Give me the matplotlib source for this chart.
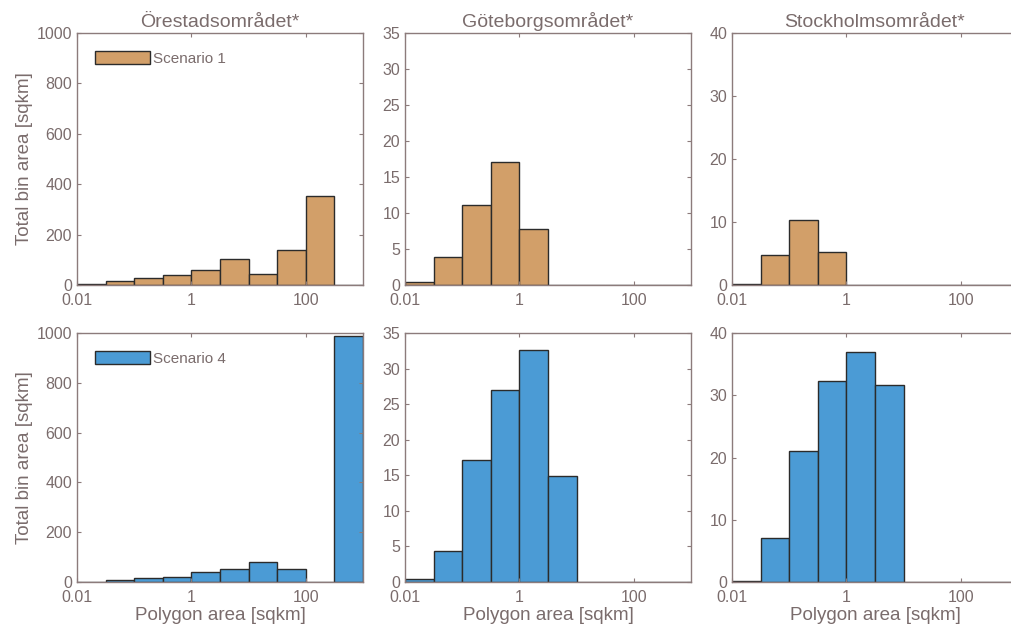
import numpy as np
import matplotlib
matplotlib.use("Agg")
import matplotlib.pyplot as plt

# half-decade bin edges, 0.01 .. 1000 sqkm
bin_edges = 10.0 ** np.arange(-2, 3.01, 0.5)

regions = ["Örestadsområdet*", "Göteborgsområdet*", "Stockholmsområdet*"]

# total bin area [sqkm] per bin, scenario 1 (top row)
s1_orestad = [3, 17, 29, 40, 60, 105, 43, 140, 353, 0]
s1_goteborg = [0.37, 3.85, 11.1, 17.1, 7.8, 0, 0, 0, 0, 0]
s1_stockholm = [0.2, 4.7, 10.3, 5.2, 0, 0, 0, 0, 0, 0]

# scenario 4 (bottom row)
s4_orestad = [1, 9, 16, 20, 40, 53, 80, 51, 0, 990]
s4_goteborg = [0.47, 4.4, 17.2, 27.0, 32.6, 14.9, 0, 0, 0, 0]
s4_stockholm = [0.16, 7.1, 21.0, 32.3, 36.9, 31.6, 0, 0, 0, 0]

ylims = [1000, 35, 40]
ysteps = [200, 5, 10]

c_s1 = "#d29f69"
c_s4 = "#4b9bd5"
txt = "#7a6c6c"
spine = "#8c7b7b"

plt.rcParams["font.family"] = ["Liberation Sans", "DejaVu Sans"]

fig = plt.figure(figsize=(10.11, 6.28), dpi=100)

xs = [0.0762, 0.4006, 0.7240]
w = 0.2829
rows = [(0.5462, 0.4013), (0.0732, 0.3965)]

data = [[s1_orestad, s1_goteborg, s1_stockholm],
        [s4_orestad, s4_goteborg, s4_stockholm]]
colors = [c_s1, c_s4]
labels = ["Scenario 1", "Scenario 4"]

for r, (y0, h) in enumerate(rows):
    for c in range(3):
        ax = fig.add_axes([xs[c], y0, w, h])
        vals = data[r][c]
        lefts = bin_edges[:-1]
        widths = np.diff(bin_edges)
        bars = ax.bar(lefts, vals, width=widths, align="edge",
                      color=colors[r], edgecolor="#2b2b2b", linewidth=1.0,
                      label=labels[r])
        ax.set_xscale("log")
        ax.set_xlim(0.01, 1000)
        ax.set_ylim(0, ylims[c])
        ax.set_xticks([0.01, 1, 100])
        ax.set_xticklabels(["0.01", "1", "100"])
        ax.minorticks_off()
        ax.set_yticks(np.arange(0, ylims[c] + 0.1, ysteps[c]))
        ax.tick_params(direction="in", top=True, right=True, length=3,
                       colors=spine, labelcolor=txt, labelsize=11.5)
        ax.tick_params(axis="y", pad=3.5)
        ax.tick_params(axis="x", pad=6)
        for s in ax.spines.values():
            s.set_color(spine)
            s.set_linewidth(1.0)
        if r == 0:
            ax.set_title(regions[c], color=txt, fontsize=14, pad=4)
        else:
            ax.set_xlabel("Polygon area [sqkm]", color=txt, fontsize=13.5,
                          labelpad=1)
        if c == 0:
            ax.set_ylabel("Total bin area [sqkm]", color=txt, fontsize=13.5,
                          labelpad=3)
            leg = ax.legend(handles=[bars.patches[0]], labels=[labels[r]],
                            loc="upper left", frameon=False, fontsize=11,
                            handlelength=3.6, handleheight=0.9,
                            handletextpad=0.2, borderaxespad=0.8)
            for t in leg.get_texts():
                t.set_color(txt)

fig.savefig("out.png", dpi=100)
